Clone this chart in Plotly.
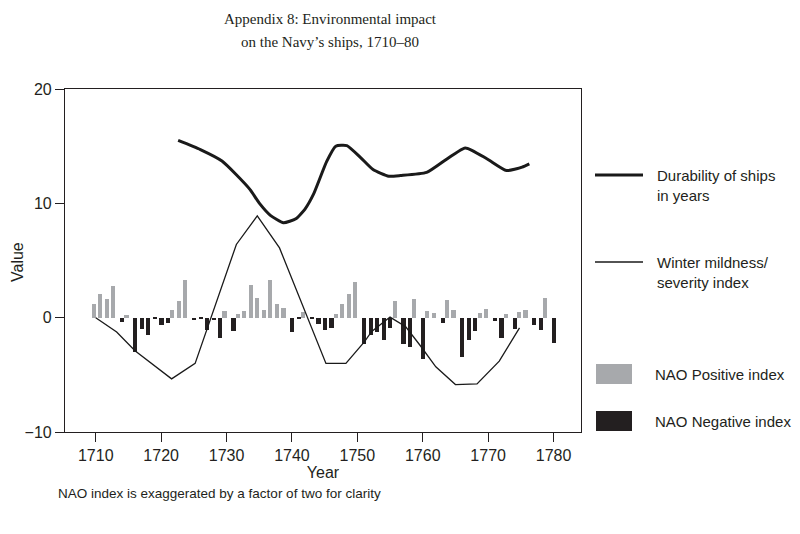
import plotly.graph_objects as go

# ---- data ----
years = list(range(1710, 1781))
nao = [1.16, 2.1, 1.6, 2.8, -0.38, 0.2, -3.0, -0.96, -1.54, -0.1,
       -0.67, -0.47, 0.64, 1.43, 3.32, -0.23, -0.15, -1.05, -0.23, -1.75,
       0.55, -1.2, 0.35, 0.58, 2.82, 1.72, 0.7, 3.32, 1.22, 0.84,
       -1.25, -0.15, 0.5, -0.1, -0.58, -1.05, -0.9, 0.35, 1.16, 2.04,
       3.1, -2.27, -1.54, -1.25, -1.98, -0.87, 1.43, -2.33, -2.56, 1.66,
       -3.58, 0.58, 0.41, -0.44, 1.57, 0.7, -3.44, -1.98, -1.16, 0.41,
       0.79, -0.29, -1.75, 0.35, -0.96, 0.5, 0.7, -0.61, -1.1, 1.72,
       -2.18]
nao_pos = [v if v > 0 else None for v in nao]
nao_neg = [v if v < 0 else None for v in nao]

winter_x = [1710, 1713.2, 1716, 1719.1, 1721.6, 1725.2, 1731.5, 1734.7, 1738.1,
            1745.2, 1748.25, 1751.1, 1752.2, 1755, 1757.4, 1759.7, 1762, 1765,
            1768.3, 1771.7, 1774.8]
winter_y = [0, -1.25, -2.9, -4.3, -5.35, -4.0, 6.4, 8.9, 6.1,
            -4.0, -4.0, -2.1, -1.2, 0.05, -0.8, -2.5, -4.3, -5.85,
            -5.8, -3.8, -0.9]

dur_x = [1722.6, 1726, 1729.3, 1731.5, 1733.6, 1735.1, 1736.7, 1738.7, 1740.6,
         1742, 1743.3, 1745.3, 1746.7, 1748.4, 1750.5, 1752.4, 1754.8, 1756.6,
         1760.6, 1766.5, 1769.8, 1772.8, 1775.2, 1776.3]
dur_y = [15.5, 14.7, 13.7, 12.5, 11.2, 9.95, 8.95, 8.3, 8.65,
         9.5, 10.8, 13.65, 15.0, 15.05, 14.0, 12.95, 12.37, 12.43,
         12.7, 14.85, 13.9, 12.87, 13.16, 13.45]

tick_years = [1710, 1720, 1730, 1740, 1750, 1760, 1770, 1780]

GRAY = "#a7a9ac"
BLACK = "#231f20"
SANS = "Liberation Sans, Arial, sans-serif"
SERIF = "Liberation Serif, Times New Roman, serif"

fig = go.Figure()
fig.add_trace(go.Bar(x=years, y=nao_pos, width=0.64, offset=-0.62,
                     marker=dict(color=GRAY, line=dict(width=0)),
                     name="NAO Positive index", showlegend=False))
fig.add_trace(go.Bar(x=years, y=nao_neg, width=0.64, offset=-0.27,
                     marker=dict(color=BLACK, line=dict(width=0)),
                     name="NAO Negative index", showlegend=False))
fig.add_trace(go.Scatter(x=winter_x, y=winter_y, mode="lines",
                         line=dict(color="#1a1a1a", width=1.3),
                         name="Winter mildness/severity index", showlegend=False))
fig.add_trace(go.Scatter(x=dur_x, y=dur_y, mode="lines",
                         line=dict(color="#1a1a1a", width=3, shape="spline", smoothing=0.5),
                         name="Durability of ships in years", showlegend=False))

# page has an 8px body margin; figure coordinates = page coordinates - 8
OFF = 8
W, H = 800 - OFF, 534 - OFF
L, T = 65 - OFF, 89 - OFF
pw, ph = 516, 343
R, B = W - L - pw, H - T - ph


def px(xp):
    return (xp - OFF - L) / pw


def py(yp):
    return (T + ph - (yp - OFF)) / ph


shapes = [
    dict(type="line", xref="paper", yref="paper", x0=px(595), x1=px(643), y0=py(175), y1=py(175),
         line=dict(color="#1a1a1a", width=3)),
    dict(type="line", xref="paper", yref="paper", x0=px(595), x1=px(643), y0=py(262), y1=py(262),
         line=dict(color="#1a1a1a", width=1.3)),
    dict(type="rect", xref="paper", yref="paper", x0=px(596), x1=px(632), y0=py(384), y1=py(364),
         fillcolor=GRAY, line=dict(width=0)),
    dict(type="rect", xref="paper", yref="paper", x0=px(596), x1=px(632), y0=py(431), y1=py(411),
         fillcolor=BLACK, line=dict(width=0)),
]

ann_font = dict(family=SANS, size=15, color="#231f20")
title_font = dict(family=SERIF, size=15, color="#231f20")
annotations = [
    dict(text="Durability of ships<br>in years", x=px(655), y=py(185.5), xref="paper", yref="paper",
         xanchor="left", yanchor="middle", showarrow=False, align="left", font=ann_font),
    dict(text="Winter mildness/<br>severity index", x=px(655), y=py(272), xref="paper", yref="paper",
         xanchor="left", yanchor="middle", showarrow=False, align="left", font=ann_font),
    dict(text="NAO Positive index", x=px(653), y=py(374), xref="paper", yref="paper",
         xanchor="left", yanchor="middle", showarrow=False, align="left", font=ann_font),
    dict(text="NAO Negative index", x=px(653), y=py(421), xref="paper", yref="paper",
         xanchor="left", yanchor="middle", showarrow=False, align="left", font=ann_font),
    dict(text="NAO index is exaggerated by a factor of two for clarity", x=px(56), y=py(494),
         xref="paper", yref="paper", xanchor="left", yanchor="middle", showarrow=False,
         font=dict(family=SANS, size=13.5, color="#231f20")),
    dict(text="Appendix 8: Environmental impact", x=px(330), y=py(19),
         xref="paper", yref="paper", xanchor="center", yanchor="middle", showarrow=False,
         font=title_font),
    dict(text="on the Navy’s ships, 1710–80", x=px(330), y=py(42),
         xref="paper", yref="paper", xanchor="center", yanchor="middle", showarrow=False,
         font=title_font),
    dict(text="Value", x=px(18), y=py(262), xref="paper", yref="paper", textangle=-90,
         xanchor="center", yanchor="middle", showarrow=False,
         font=dict(family=SANS, size=16, color="#231f20")),
]

fig.update_layout(
    width=W, height=H,
    margin=dict(l=L, r=R, t=T, b=B, autoexpand=False),
    paper_bgcolor="white", plot_bgcolor="white",
    barmode="overlay", bargap=0,
    showlegend=False,
    shapes=shapes, annotations=annotations,
    font=dict(family=SANS, size=16, color="#231f20"),
)
fig.update_xaxes(range=[1705.3, 1784.2], tickvals=tick_years, ticktext=[str(t) for t in tick_years],
                 showgrid=False, zeroline=False, showline=True, linecolor="#231f20", linewidth=1.2,
                 mirror=True, ticks="outside", ticklen=9, tickcolor="#231f20", tickwidth=1.2,
                 title=dict(text="Year", font=dict(family=SANS, size=16), standoff=3),
                 tickfont=dict(family=SANS, size=16))
fig.update_yaxes(range=[-10, 20], tickvals=[-10, 0, 10, 20], ticktext=["−10", "0", "10", "20"],
                 showgrid=False, zeroline=False, showline=True, linecolor="#231f20", linewidth=1.2,
                 mirror=True, ticks="outside", ticklen=9, tickcolor="#231f20", tickwidth=1.2,
                 tickfont=dict(family=SANS, size=16))

fig.write_html("out.html")
